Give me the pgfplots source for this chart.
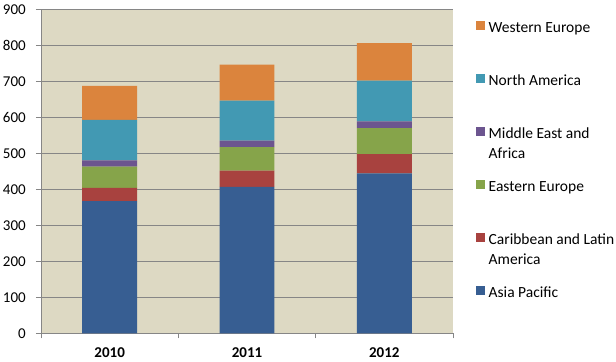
\documentclass[border=0pt]{standalone}
\usepackage{fontspec}
\setmainfont{Carlito}
\usepackage{pgfplots}
\pgfplotsset{compat=1.18}
\definecolor{bgc}{HTML}{DDD9C3}
\definecolor{gridc}{HTML}{868686}
\definecolor{cAP}{HTML}{375E92}
\definecolor{cCL}{HTML}{A8423F}
\definecolor{cEE}{HTML}{86A44A}
\definecolor{cME}{HTML}{6C558F}
\definecolor{cNA}{HTML}{4299B3}
\definecolor{cWE}{HTML}{DB843D}
\pgfplotsset{sq/.style={fill=#1, draw=none,
  legend image code/.code={\fill[#1] (0bp,0bp) rectangle (8.5bp,9bp);}}}
\newcommand{\twoline}[2]{\smash{\parbox[t]{6cm}{\raggedright #1\\#2}}}
\begin{document}
\fontsize{15.5bp}{20bp}\selectfont
\begin{tikzpicture}
\begin{axis}[
  name=ax,
  scale only axis,
  width=412bp, height=324bp,
  ybar stacked, bar width=0.4, bar shift=0pt,
  xmin=-0.5, xmax=2.5,
  ymin=0, ymax=900,
  ytick={0,100,...,900},
  xtick={0,1,2},
  xticklabels={2010,2011,2012},
  minor xtick={-0.5,0.5,1.5,2.5},
  major x tick style={draw=none},
  tick align=outside,
  major tick length=5bp, minor tick length=5bp,
  tick style={gridc, line width=0.8bp},
  axis x line*=bottom, axis y line*=left,
  axis line style={gridc, line width=0.8bp, -},
  axis background/.style={fill=bgc},
  ymajorgrids, grid style={gridc, line width=0.8bp},
  /pgf/number format/assume math mode=true,
  ticklabel style={font=\fontsize{15bp}{18bp}\selectfont, inner sep=0pt},
  yticklabel style={xshift=-10bp},
  xticklabel style={font=\fontsize{15bp}{18bp}\selectfont\bfseries, yshift=-9bp},
  reverse legend,
  legend cell align=left,
  legend style={draw=none, fill=none, at={(1,1)}, anchor=north west,
    xshift=23bp, yshift=-12bp, row sep=38.5bp, column sep=4bp,
    inner sep=0pt,
    font=\fontsize{15.5bp}{20bp}\selectfont,
    nodes={inner sep=0pt, text height=8bp, text depth=3bp}},
]
\addplot[sq=cAP] coordinates {(0,367) (1,407) (2,444)};
\addplot[sq=cCL] coordinates {(0,37) (1,45) (2,54)};
\addplot[sq=cEE] coordinates {(0,59) (1,65) (2,72)};
\addplot[sq=cME] coordinates {(0,17) (1,18) (2,19)};
\addplot[sq=cNA] coordinates {(0,113) (1,111) (2,113)};
\addplot[sq=cWE] coordinates {(0,94) (1,100) (2,104)};
\legend{Asia Pacific,
  {\twoline{Caribbean and Latin}{America}},
  Eastern Europe,
  {\twoline{Middle East and}{Africa}},
  North America,
  Western Europe}
\end{axis}
\pgfresetboundingbox
\path ([shift={(-41bp,-28.7bp)}]ax.south west) rectangle ([shift={(163bp,9.3bp)}]ax.north east);
\end{tikzpicture}
\end{document}
